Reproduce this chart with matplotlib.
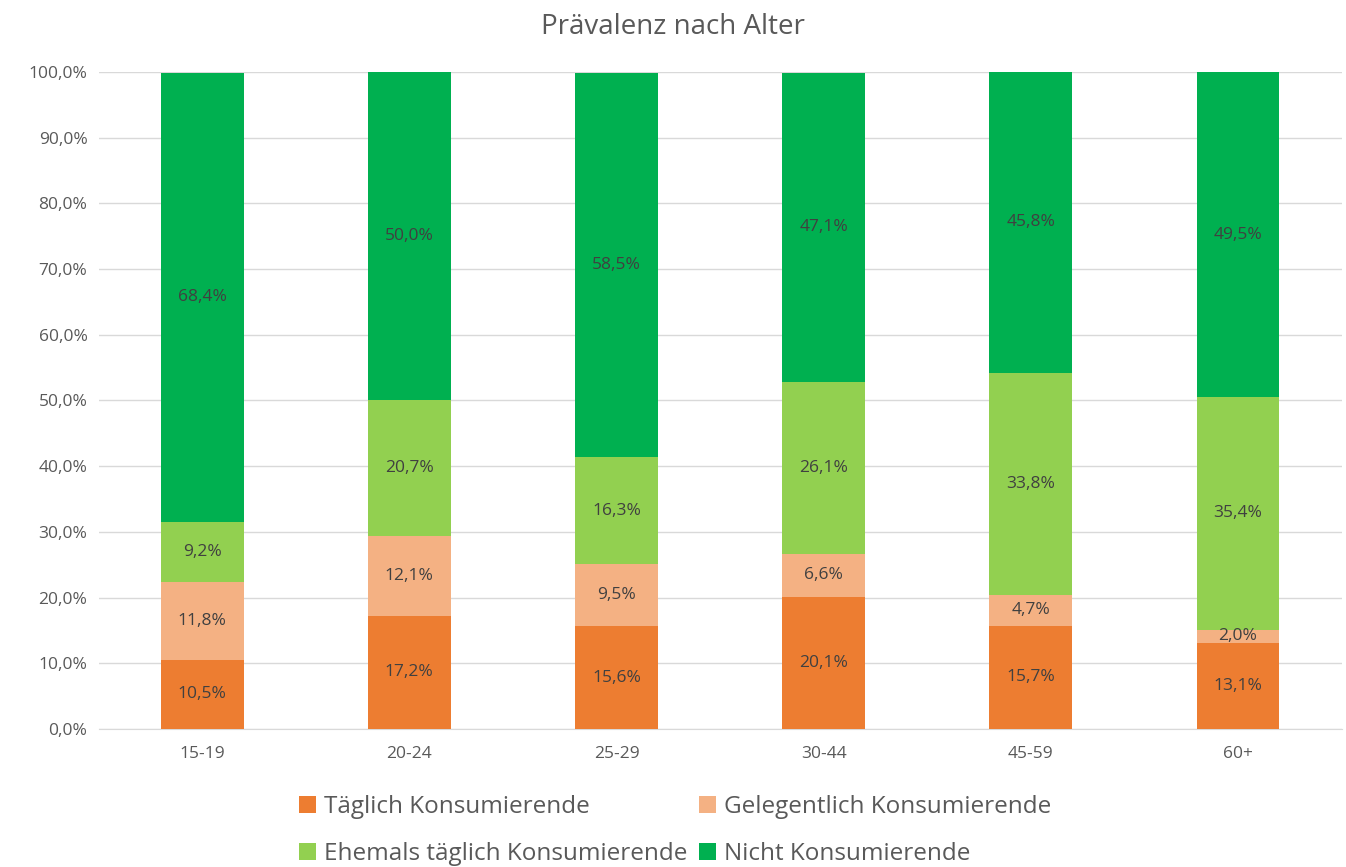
import matplotlib.pyplot as plt
import numpy as np
from matplotlib.ticker import FuncFormatter

# === Data ===
categories = ["15-19", "20-24", "25-29", "30-44", "45-59", "60+"]
taeglich = [10.5, 17.2, 15.6, 20.1, 15.7, 13.1]
gelegentlich = [11.8, 12.1, 9.5, 6.6, 4.7, 2.0]
ehemals = [9.2, 20.7, 16.3, 26.1, 33.8, 35.4]
nicht = [68.4, 50.0, 58.5, 47.1, 45.8, 49.5]

series = [
    ("Täglich Konsumierende", taeglich, "#ED7D31"),
    ("Gelegentlich Konsumierende", gelegentlich, "#F4B183"),
    ("Ehemals täglich Konsumierende", ehemals, "#92D050"),
    ("Nicht Konsumierende", nicht, "#00B050"),
]

plt.rcParams['font.family'] = ['Open Sans', 'DejaVu Sans']

fig = plt.figure(figsize=(13.46, 8.67), dpi=100)
ax = fig.add_axes([0.0732, 0.1592, 0.9235, 0.7578])

x = np.arange(len(categories))
bottom = np.zeros(len(categories))
handles = []
for label, vals, color in series:
    vals = np.array(vals)
    h = ax.bar(x, vals, 0.4, bottom=bottom, color=color, label=label, zorder=3)
    handles.append(h)
    for xi, b, v in zip(x, bottom, vals):
        ax.text(xi, b + v / 2, f"{v:.1f}%".replace(".", ","), ha="center",
                va="center", fontsize=12.5, color="#404040", zorder=4)
    bottom += vals

ax.set_xlim(-0.5, len(categories) - 0.5)
ax.set_ylim(0, 100)
ax.set_yticks(np.arange(0, 101, 10))
ax.yaxis.set_major_formatter(FuncFormatter(lambda v, p: f"{v:.1f}%".replace(".", ",")))
ax.set_xticks(x)
ax.set_xticklabels(categories)
ax.tick_params(axis="both", length=0, labelsize=12.5, colors="#595959")
ax.tick_params(axis="x", pad=12)
ax.tick_params(axis="y", pad=8)
ax.grid(axis="y", color="#D9D9D9", linewidth=1, zorder=0)
for s in ["top", "right", "left"]:
    ax.spines[s].set_visible(False)
ax.spines["bottom"].set_color("#D9D9D9")

fig.suptitle("Prävalenz nach Alter", y=0.985, va="top", fontsize=20, color="#595959")

# legend filled row-wise like the original
order = [0, 2, 1, 3]
fig.legend([handles[i] for i in order], [series[i][0] for i in order],
           loc="upper left", bbox_to_anchor=(0.222, 0.083), ncol=2, frameon=False,
           borderpad=0, borderaxespad=0,
           fontsize=17.5, handlelength=0.7, handleheight=0.7, handletextpad=0.35,
           columnspacing=0.45, labelspacing=0.95, labelcolor="#595959")

plt.savefig("out.png", dpi=100)
